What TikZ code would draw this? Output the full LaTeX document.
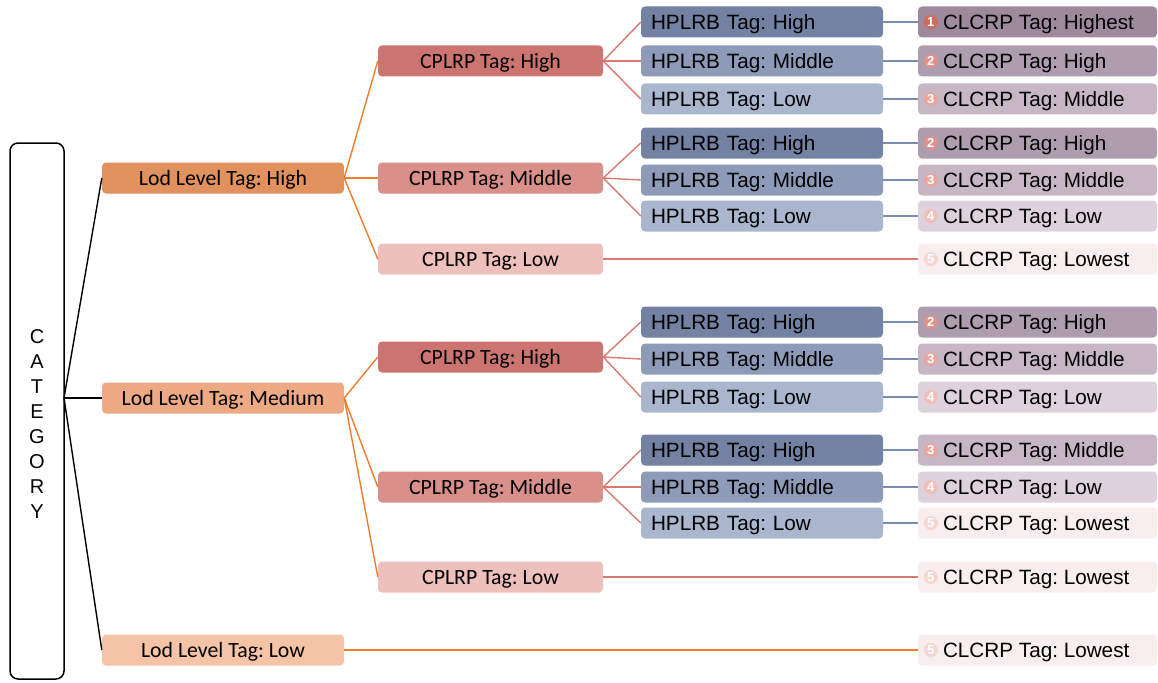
\documentclass[tikz,border=0pt]{standalone}
\usepackage{fontspec}
\setmainfont{Liberation Sans}
\newfontfamily\aptfont{Carlito}
\definecolor{lodA}{HTML}{E0915E}
\definecolor{lodB}{HTML}{EDA984}
\definecolor{lodC}{HTML}{F5C4A6}
\definecolor{cpA}{HTML}{CC7570}
\definecolor{cpB}{HTML}{D98F8A}
\definecolor{cpC}{HTML}{EEC0BC}
\definecolor{hpA}{HTML}{7382A3}
\definecolor{hpB}{HTML}{8D9AB8}
\definecolor{hpC}{HTML}{A9B6CE}
\definecolor{clA}{HTML}{9F8A9D}
\definecolor{clB}{HTML}{AE9DAE}
\definecolor{clC}{HTML}{C7B7C5}
\definecolor{clD}{HTML}{DDD2DC}
\definecolor{clE}{HTML}{F8EEEE}
\definecolor{nA}{HTML}{D36B5D}
\definecolor{nB}{HTML}{E0918A}
\definecolor{nC}{HTML}{E8A59D}
\definecolor{nD}{HTML}{F0BFB8}
\definecolor{nE}{HTML}{F6D6D1}
\definecolor{orangeline}{HTML}{F07C2E}
\definecolor{salmonline}{HTML}{D97A70}
\definecolor{blueline}{HTML}{7A8DB0}
\begin{document}
\frenchspacing
\begin{tikzpicture}[x=1pt,y=-1pt,
  box/.style={rounded corners=4pt, minimum height=31pt, inner sep=0pt, draw=none, text depth=0pt},
  lod/.style={box, minimum width=242pt, font=\frenchspacing\aptfont\fontsize{21.8}{24}\selectfont},
  cp/.style={box, minimum width=225pt, font=\frenchspacing\aptfont\fontsize{21.8}{24}\selectfont},
  hp/.style={box, minimum width=242pt, text width=222pt, align=left, font=\frenchspacing\fontsize{20.7}{24}\selectfont},
  clbox/.style={box, minimum width=239pt},
  cltext/.style={anchor=west, inner sep=0pt, text depth=0pt, font=\frenchspacing\fontsize{20.7}{24}\selectfont},
  num/.style={circle, inner sep=0pt, minimum size=14pt, text=white, text depth=0pt, font=\bfseries\fontsize{13}{13}\selectfont},
  lk/.style={line width=1.4pt},
]
\useasboundingbox (0,0) rectangle (1158,682);

% category
\node[draw=black, line width=1.5pt, rounded corners=8pt, minimum width=54pt, minimum height=536pt, inner sep=0pt] (cat) at (37,411) {};
\node[align=center, font=\fontsize{20}{25}\selectfont, inner sep=0pt] (catt) at (37,424) {C\\A\\T\\E\\G\\O\\R\\Y};
\coordinate (catr) at (64,398);

% Lod level
\node[lod, fill=lodA] (L1) at (223,178) {Lod Level Tag: High};
\node[lod, fill=lodB] (L2) at (223,398) {Lod Level Tag: Medium};
\node[lod, fill=lodC] (L3) at (223,650) {Lod Level Tag: Low};

% CPLRP
\node[cp, fill=cpA] (C1) at (490.5,61) {CPLRP Tag: High};
\node[cp, fill=cpB] (C2) at (490.5,178) {CPLRP Tag: Middle};
\node[cp, fill=cpC] (C3) at (490.5,259) {CPLRP Tag: Low};
\node[cp, fill=cpA] (C4) at (490.5,357) {CPLRP Tag: High};
\node[cp, fill=cpB] (C5) at (490.5,487) {CPLRP Tag: Middle};
\node[cp, fill=cpC] (C6) at (490.5,577) {CPLRP Tag: Low};

% HPLRB
\node[hp, fill=hpA] (H1) at (762,22) {HPLRB Tag: High};
\node[hp, fill=hpB] (H2) at (762,61) {HPLRB Tag: Middle};
\node[hp, fill=hpC] (H3) at (762,99) {HPLRB Tag: Low};
\node[hp, fill=hpA] (H4) at (762,143) {HPLRB Tag: High};
\node[hp, fill=hpB] (H5) at (762,180) {HPLRB Tag: Middle};
\node[hp, fill=hpC] (H6) at (762,216) {HPLRB Tag: Low};
\node[hp, fill=hpA] (H7) at (762,322) {HPLRB Tag: High};
\node[hp, fill=hpB] (H8) at (762,359) {HPLRB Tag: Middle};
\node[hp, fill=hpC] (H9) at (762,397) {HPLRB Tag: Low};
\node[hp, fill=hpA] (H10) at (762,450) {HPLRB Tag: High};
\node[hp, fill=hpB] (H11) at (762,487) {HPLRB Tag: Middle};
\node[hp, fill=hpC] (H12) at (762,523) {HPLRB Tag: Low};

% CLCRP
\newcommand{\clnode}[6]{%
  \node[clbox, fill=#3] (R#1) at (1037.5,#2) {};
  \node[num, fill=#5] (N#1) at ([xshift=13pt]R#1.west) {#4};
  \node[cltext] (T#1) at ([xshift=25pt]R#1.west) {#6};
}
\clnode{1}{22}{clA}{1}{nA}{CLCRP Tag: Highest}
\clnode{2}{61}{clB}{2}{nB}{CLCRP Tag: High}
\clnode{3}{99}{clC}{3}{nC}{CLCRP Tag: Middle}
\clnode{4}{143}{clB}{2}{nB}{CLCRP Tag: High}
\clnode{5}{180}{clC}{3}{nC}{CLCRP Tag: Middle}
\clnode{6}{216}{clD}{4}{nD}{CLCRP Tag: Low}
\clnode{7}{259}{clE}{5}{nE}{CLCRP Tag: Lowest}
\clnode{8}{322}{clB}{2}{nB}{CLCRP Tag: High}
\clnode{9}{359}{clC}{3}{nC}{CLCRP Tag: Middle}
\clnode{10}{397}{clD}{4}{nD}{CLCRP Tag: Low}
\clnode{11}{450}{clC}{3}{nC}{CLCRP Tag: Middle}
\clnode{12}{487}{clD}{4}{nD}{CLCRP Tag: Low}
\clnode{13}{523}{clE}{5}{nE}{CLCRP Tag: Lowest}
\clnode{14}{577}{clE}{5}{nE}{CLCRP Tag: Lowest}
\clnode{15}{650}{clE}{5}{nE}{CLCRP Tag: Lowest}

% connectors: category -> lod
\foreach \t in {L1,L2,L3} \draw[lk, black] (catr) -- (\t.west);
% lod -> cplrp
\foreach \t in {C1,C2,C3} \draw[lk, orangeline] (L1.east) -- (\t.west);
\foreach \t in {C4,C5,C6} \draw[lk, orangeline] (L2.east) -- (\t.west);
\draw[lk, orangeline] (L3.east) -- (R15.west);
% cplrp -> hplrb
\foreach \t in {H1,H2,H3} \draw[lk, salmonline] (C1.east) -- (\t.west);
\foreach \t in {H4,H5,H6} \draw[lk, salmonline] (C2.east) -- (\t.west);
\foreach \t in {H7,H8,H9} \draw[lk, salmonline] (C4.east) -- (\t.west);
\foreach \t in {H10,H11,H12} \draw[lk, salmonline] (C5.east) -- (\t.west);
\draw[lk, salmonline] (C3.east) -- (R7.west);
\draw[lk, salmonline] (C6.east) -- (R14.west);
% hplrb -> clcrp
\foreach \a/\b in {H1/R1,H2/R2,H3/R3,H4/R4,H5/R5,H6/R6,H7/R8,H8/R9,H9/R10,H10/R11,H11/R12,H12/R13}
  \draw[lk, blueline] (\a.east) -- (\b.west);
\end{tikzpicture}
\end{document}
